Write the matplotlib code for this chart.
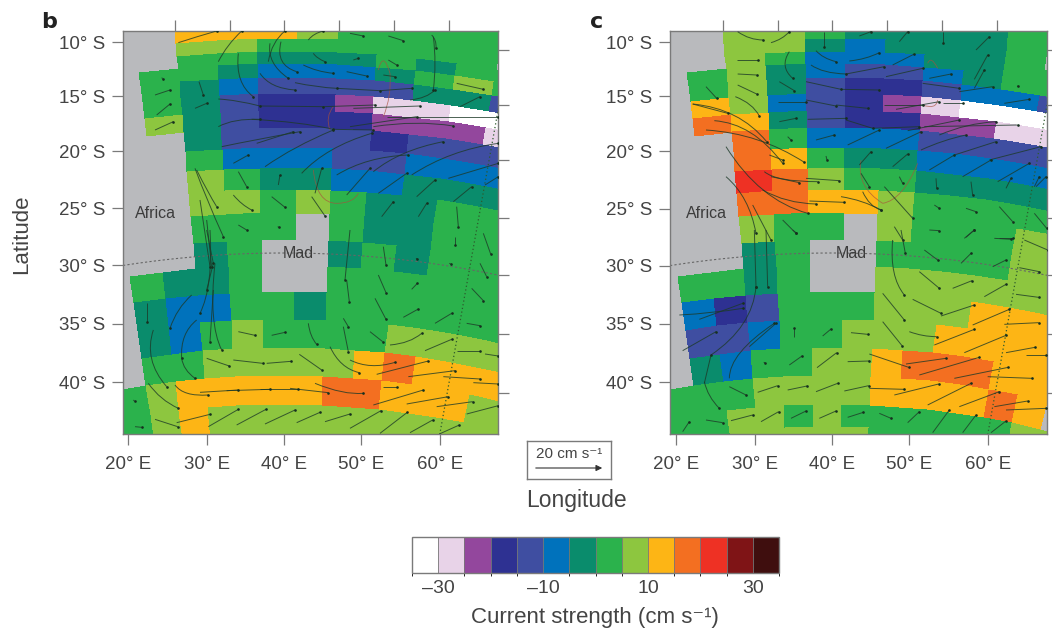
import numpy as np
import matplotlib
matplotlib.use('Agg')
import matplotlib.pyplot as plt
from matplotlib.colors import ListedColormap, BoundaryNorm
from matplotlib.cm import ScalarMappable
from matplotlib.path import Path
from matplotlib.patches import PathPatch

plt.rcParams['font.family'] = ['Liberation Sans', 'DejaVu Sans']

W, H = 1052, 635

# colour classes of the key, 5 cm/s wide
bounds = [-35, -30, -25, -20, -15, -10, -5, 0, 5, 10, 15, 20, 25, 30, 35]
colours = ['#ffffff', '#e8d3e8', '#93479d', '#2e3192', '#3f4ea1', '#0072bc', '#0a8c6c',
           '#2bb24c', '#8dc63f', '#fdb515', '#f36f21', '#ee3124', '#7f1416', '#3f0e0e']
codes = {'W': -32.5, 'P': -27.5, 'U': -22.5, 'N': -17.5, 'I': -12.5, 'B': -7.5, 'T': -2.5,
         'G': 2.5, 'L': 7.5, 'A': 12.5, 'O': 17.5, 'R': 22.5, '.': np.nan}
land = '#b9babd'

# model grid (degrees)
lon_edges = [16, 19.6, 23.2, 26.8, 30.4, 34, 37.6, 41.2, 44.8, 48.4, 52, 55.6, 59.2, 62.8, 66.4, 70, 73.6]
lat_edges = [7, 8.2, 9.4, 10.65, 11.87, 13, 14.3, 15.78, 17.34, 18.9, 20.7, 22.5, 24.4, 26.45,
             28.85, 31.1, 33.4, 35.8, 38.26, 40.7, 43.2, 45.1, 47.9]

# one string per row, north to south, one letter per grid column
cells_b = [
    "....AAALGGGG....",
    "....AAALGGGG....",
    "....AAALGGGG....",
    "....LLGGGGGG....",
    "....GGTTTGTGG...",
    "...GGTBBBTGLGG..",
    "...GTBIIIITTII..",
    "...GTINNUPPWWW..",
    "...LTINNNUUUPP..",
    "....TIIIINIIII..",
    "....GBBBIIBBBB..",
    "....LGTTBBTTTT..",
    "....LLGLGTTGGG..",
    "....GGG.GTTGGG..",
    "....TG..TGTGGG..",
    "..GTTG..GGGGGG..",
    "..TBBGGTGGGGGG..",
    "..TBGLGGGGLLLL..",
    "..GGLLLLLAOAAA..",
    "GGLAAAAAOOAAALL.",
    "GGLALLLLLLLLLLL.",
    "GGLALLLLLLLLLLL.",
]
cells_c = [
    "....LLGTTTTG....",
    "....LLGTTTTG....",
    "....LLGTTTTG....",
    "....LLTBTTTG....",
    "....LGBBBTTGG...",
    "...GLTBIIBTGGG..",
    "...GLTINNIBBII..",
    "...ALBINUPWWWW..",
    "...OATINNUUPPP..",
    "....OGBBBIIIII..",
    "....OAGTTBBBBB..",
    "....ROLGGTTTTT..",
    "....OOAALGGGGG..",
    "....LGG.LGGGLL..",
    "....TG..GGGGLL..",
    "..GGTG..LLLLLL..",
    "..BNIGGGLLLAAA..",
    "..IIBGGLLLAAAA..",
    "..TBGGLLAOOOAA..",
    ".GGGLLLLAAAAOA..",
    "GGGLLGLGGGGGGLL.",
    "GGGLLLLLGGGGGLL.",
]

trails_b_north = [
    (535,128,590,110,650,93), (655,185,680,135,725,93), (805,185,815,125,855,93), (925,120,940,100,970,93),
    (1050,100,1090,108), (1165,108,1210,122), (1295,105,1310,120,1308,145), (843,125,825,195,890,215),
    (810,130,800,190,865,235), (715,160,705,250,760,290), (780,220,810,265,885,270), (910,195,950,215,1000,220),
    (940,160,950,175,975,185), (1040,215,1100,228), (1060,180,1075,175), (1165,180,1190,195), (1150,225,1185,230),
    (885,248,950,262,1010,265), (1010,265,1140,272), (1140,272,1235,265), (1300,110,1310,190,1300,270),
    (1370,250,1450,268), (1230,300,1280,295,1305,270), (1380,320,1440,290), (597,245,610,285),
    (655,297,710,300,780,318), (780,318,970,320), (970,320,1125,315), (1060,325,1260,318), (585,325,620,310),
    (465,285,510,270), (470,345,510,312), (465,390,520,365), (485,233,488,236), (655,380,700,355,780,358),
    (755,358,900,365,1000,388), (1000,388,1120,390), (1050,380,1250,350), (1120,380,1250,360,1360,378),
    (1160,350,1495,350), (665,440,760,420,900,395), (770,430,880,395), (795,500,880,440,1000,390),
    (905,520,980,440,1115,400), (1010,525,1100,470,1225,465), (1120,515,1200,450,1330,425),
    (1235,525,1350,450,1495,430), (1345,535,1495,490), (700,490,745,465), (715,515,740,560), (835,555,840,525),
    (945,580,965,505), (1040,585,1110,505), (1135,580,1220,520), (1250,590,1305,540), (1360,605,1415,560),
    (1455,555,1495,530), (700,585,725,615,755,630), (815,590,855,622), (935,590,975,648), (1145,650,1180,605),
    (1255,650,1280,610), (1370,620,1375,680), (715,675,740,690), (833,680,837,682), (585,505,620,600,670,710),
    (590,510,625,580,650,620), (600,600,630,800), (620,660,635,800),
]
trails_b_south = [
    (620,0,640,100), (640,100,620,180), (640,180,630,335), (630,0,640,170,600,250), (645,100,625,280,665,360),
    (575,195,530,235,510,295), (590,270,540,310,545,385), (440,220,440,275), (460,300,430,390,500,470),
    (545,385,550,420,585,445), (445,460,480,510,535,535), (525,465,550,500,625,495), (600,487,715,480),
    (680,482,810,478), (780,478,895,478), (870,475,985,488), (945,460,1030,495,1090,490), (715,305,765,316),
    (815,316,855,307), (620,385,688,408), (700,390,788,400), (800,400,873,394), (898,373,965,420),
    (925,280,930,320,950,343), (990,350,1020,415,1078,428), (1050,390,1110,420,1185,397), (1130,433,1285,393),
    (1225,440,1365,422), (1330,440,1440,447), (1420,458,1495,462), (1120,525,1270,480), (1220,522,1345,500),
    (1310,530,1418,515), (1400,552,1495,527), (1150,470,1190,470), (465,568,533,590), (530,578,630,553),
    (625,590,715,538), (710,585,798,538), (795,582,885,540), (890,578,960,547), (975,575,1050,552),
    (1050,595,1143,542), (1140,610,1222,547), (1230,608,1298,570), (1318,612,1378,585), (1050,0,1035,150),
    (1040,150,1048,215), (1030,265,1045,290), (1030,290,1045,365), (1110,305,1148,335), (1125,205,1158,268),
    (1135,135,1158,188), (1150,50,1158,105), (1235,178,1252,160), (1210,262,1255,237), (1305,280,1355,250),
    (1170,345,1230,340,1265,310), (1275,362,1355,328), (1370,362,1440,362), (1400,280,1440,287),
    (1455,372,1495,378), (1348,100,1352,102), (1440,100,1460,140), (1415,175,1450,212), (1365,20,1365,45),
    (1450,10,1472,72), (1248,85,1252,87), (400,510,404,514), (405,590,425,592),
]
trails_c_north = [
    (635,95,670,120,712,120), (735,128,770,118,790,95), (895,95,895,140), (1000,108,1035,95), (1120,125,1145,95),
    (1250,95,1250,130), (1350,150,1390,110), (870,152,890,175,930,185), (970,183,1020,178,1060,158),
    (1100,195,1165,162), (790,155,760,200,800,235), (632,180,697,180), (635,222,692,225), (635,255,692,282),
    (628,290,680,310,700,348), (855,195,890,220,960,222), (960,222,1075,200), (1080,230,1190,205),
    (1210,235,1275,222), (1345,238,1385,165), (1345,265,1375,210), (1300,275,1400,260), (760,245,805,272),
    (840,245,945,268), (945,268,1060,270), (1190,250,1300,265), (840,300,930,318), (755,305,840,305),
    (930,315,1025,325), (1075,315,1190,315), (1110,328,1240,305), (1250,310,1310,310), (1435,310,1510,298),
    (1473,258,1477,259), (760,365,810,355), (845,358,960,355), (960,360,1040,385), (1040,385,1180,380),
    (1145,392,1300,360), (1195,380,1475,375), (1240,405,1320,370,1410,365), (870,420,925,405), (785,410,795,420),
    (965,435,1060,390), (1080,445,1185,395), (1185,450,1250,420,1320,405), (1285,465,1410,425), (1390,480,1545,440),
    (1210,510,1285,465), (1310,530,1395,480), (1415,545,1510,490), (1530,560,1560,530), (1100,500,1145,462),
    (1000,495,1035,455), (900,468,903,480), (500,312,605,340), (540,260,572,295),
    (500,312,640,325,722,425), (565,362,680,370,770,490), (540,390,700,400,835,487), (730,465,770,480),
    (715,515,750,545,875,545), (840,535,940,542), (735,530,820,548), (600,530,670,590,690,700),
    (600,440,700,600,845,640), (710,570,780,610,870,612), (850,603,955,607), (945,590,1010,600,1065,630),
    (1005,520,1030,560), (1075,560,1160,655), (1120,530,1130,550), (1010,575,1030,620,1065,630),
    (1225,615,1240,625), (1320,625,1350,635), (1420,620,1460,665), (1525,640,1562,685), (1230,535,1232,565),
    (1335,545,1340,585), (1440,565,1455,535), (1525,560,1540,530), (770,660,810,700), (1210,690,1240,692),
    (1315,715,1345,690), (1420,715,1460,715), (680,615,735,720), (1105,680,1130,720),
]
trails_c_south = [
    (685,0,690,170), (720,0,725,170), (535,460,555,375), (555,375,680,290,690,170), (610,445,610,370,745,280),
    (670,350,750,280), (460,255,560,250,650,235), (520,268,650,220), (470,362,570,305), (535,455,545,500,580,535),
    (610,470,660,495), (540,570,590,578), (615,572,680,555), (705,575,758,545), (795,565,840,543), (880,565,930,543),
    (965,562,1012,547), (1060,550,1095,565), (1145,578,1180,545), (1220,608,1270,540), (1310,608,1350,555),
    (1395,608,1440,573), (470,605,490,575), (695,487,755,467), (785,480,843,468), (870,485,935,460),
    (955,483,1028,467), (1030,475,1135,478), (1105,495,1238,462), (1205,525,1335,460), (1300,530,1420,485),
    (1405,530,1505,513), (1440,540,1560,535), (790,405,828,378), (873,413,932,368), (713,397,717,398),
    (965,395,1030,393), (1030,372,1148,412), (1140,402,1260,385), (1180,435,1360,382), (1285,445,1447,412),
    (1385,440,1518,445), (1440,368,1527,352), (1500,375,1560,375), (1315,368,1440,316), (1225,345,1345,298),
    (1340,285,1450,238), (1435,283,1538,278), (1470,193,1538,202), (1375,200,1440,163), (1280,175,1338,152),
    (1160,208,1245,250), (1245,258,1345,225), (1180,125,1240,175), (1100,30,1090,140,1135,195), (1125,0,1138,70),
    (1070,190,1135,270), (1070,275,1128,347), (1150,305,1190,320,1232,320), (975,308,1025,313), (890,318,915,297),
    (805,320,805,295), (1195,60,1235,90), (1305,100,1335,70), (1400,110,1440,90), (1405,25,1455,28),
    (1495,30,1565,60), (1480,113,1540,125), (800,0,810,8), (1320,22,1345,0),
]
# thin reddish contour around the eddy track
loops_b = [(1135,210,1150,150,1170,220), (1170,220,1175,290,1150,350), (1000,320,975,350,990,390),
           (940,510,950,610,1010,610), (1010,610,1060,610,1075,580)]
loops_c = [(1205,190,1215,165,1235,205), (1190,315,1230,330,1235,300), (1005,480,990,560,1070,610),
           (1070,610,1130,600,1175,490)]

lat_ticks = [10, 15, 20, 25, 30, 35, 40]
lon_ticks = [20, 30, 40, 50, 60]
top_lons = [30.4, 35.2, 40, 44.9, 49.7, 54.5]

# conic map: meridian 40E is upright, cone tip far below the map
tip_y = 1300.0
mid_x = 284.0
cone = 0.51
lat_nodes = [5, 10, 15, 20, 25, 30, 35, 40, 50]
y_nodes = [-21.5, 32, 85.5, 140, 196.6, 253, 310.5, 368, 484]

def radius(lat):
    return tip_y - np.interp(lat, lat_nodes, y_nodes)

def project(lon, lat):
    th = np.radians(cone * (np.asarray(lon, float) - 40))
    r = radius(lat)
    return mid_x + r * np.sin(th), tip_y - r * np.cos(th)

def parallel_y(lat, x):
    r = radius(np.asarray(lat, float))
    return tip_y - np.sqrt(r ** 2 - (x - mid_x) ** 2)

def meridian_x(lon, y):
    th = np.radians(cone * (np.asarray(lon, float) - 40))
    return mid_x + (tip_y - y) * np.tan(th)

cmap = ListedColormap(colours)
norm = BoundaryNorm(bounds, cmap.N)
txt = '#444444'
frame = '#7a7a7a'

fig = plt.figure(figsize=(W / 100, H / 100), dpi=100)

def axes_px(x0, y0, x1, y1):
    return fig.add_axes([x0 / W, 1 - y1 / H, (x1 - x0) / W, (y1 - y0) / H])

def draw_trails(ax, trails, xoff, yoff, colour='#1d3a28', lw=0.7, alpha=0.8, heads=True):
    for t in trails:
        xs = [v / 3 + xoff for v in t[0::2]]
        ys = [v / 3 + yoff for v in t[1::2]]
        if len(xs) == 3:
            kinds = [Path.MOVETO, Path.CURVE3, Path.CURVE3]
        else:
            kinds = [Path.MOVETO, Path.LINETO]
        ax.add_patch(PathPatch(Path(list(zip(xs, ys)), kinds), fc='none', ec=colour, lw=lw, alpha=alpha, zorder=3))
        if heads:
            ax.plot(xs[-1], ys[-1], 'o', ms=1.9, color='#16301f', mew=0, zorder=4)

def panel(box, xlim, cells, north, south, loops, xoff, letter, letter_x, africa_x, mad_x):
    ax = axes_px(*box)
    ax.set_facecolor(land)
    lon_g, lat_g = np.meshgrid(lon_edges, lat_edges)
    X, Y = project(lon_g, lat_g)
    vals = np.array([[codes[c] for c in row] for row in cells])
    ax.pcolormesh(X, Y, np.ma.masked_invalid(vals), cmap=cmap, norm=norm, shading='flat', antialiased=False, zorder=1)
    ax.set_xlim(*xlim)
    ax.set_ylim(434, 31)

    # 30S parallel and 60E meridian
    xx = np.linspace(xlim[0], xlim[1], 60)
    ax.plot(xx, parallel_y(30, xx), color='#666666', lw=0.8, ls=(0, (2, 2)), zorder=2)
    yy = np.linspace(31, 434, 60)
    ax.plot(meridian_x(60, yy), yy, color='#2d5a2d', lw=0.9, ls=(0, (1, 2)), zorder=2)

    draw_trails(ax, loops, xoff, 0, colour='#a8503c', lw=0.6, alpha=0.7, heads=False)
    draw_trails(ax, north, xoff, 0)
    draw_trails(ax, south, xoff, 230)

    ax.set_xticks(meridian_x(lon_ticks, 434))
    ax.set_xticklabels(['%d° E' % v for v in lon_ticks])
    ax.set_yticks(parallel_y(lat_ticks, xlim[0]))
    ax.set_yticklabels(['%d° S' % v for v in lat_ticks])
    ax.tick_params(axis='both', length=8, width=0.9, color=frame, labelcolor=txt, labelsize=13.5)
    ax.tick_params(axis='x', pad=8)
    ax.tick_params(axis='y', pad=5)
    for s in ax.spines.values():
        s.set_color(frame)
        s.set_linewidth(1.0)
    sx = ax.secondary_xaxis('top')
    sx.set_xticks(meridian_x(top_lons, 31))
    sx.set_xticklabels([])
    sx.tick_params(length=8, width=0.9, color=frame)
    sx.spines['top'].set_visible(False)
    sy = ax.secondary_yaxis('right')
    sy.set_yticks(parallel_y(lat_ticks, xlim[1]))
    sy.set_yticklabels([])
    sy.tick_params(length=8, width=0.9, color=frame)
    sy.spines['right'].set_visible(False)

    ax.text(africa_x, 214, 'Africa', fontsize=11.5, color='#3c3c3c', ha='center', va='center', zorder=5)
    ax.text(mad_x, 254, 'Mad', fontsize=11.5, color='#3c3c3c', ha='center', va='center', zorder=5)
    fig.text(letter_x / W, 1 - 22 / H, letter, fontsize=16, fontweight='bold', color='#222222',
             family='DejaVu Sans', ha='center', va='center')
    return ax

panel((123, 31, 498, 434), (123, 498), cells_b, trails_b_north, trails_b_south, loops_b, 0, 'b', 49, 155, 298)
panel((670, 31, 1047, 434), (122, 499), cells_c, trails_c_north, trails_c_south, loops_c, -22, 'c', 597, 158, 303)

fig.text(22 / W, 1 - 234 / H, 'Latitude', rotation=90, fontsize=16, color=txt, ha='center', va='center')
fig.text(576 / W, 1 - 501 / H, 'Longitude', fontsize=16.5, color=txt, ha='center', va='center')

# scale arrow box
key = axes_px(527, 441, 611, 479)
key.set_xlim(0, 84)
key.set_ylim(38, 0)
key.set_xticks([])
key.set_yticks([])
for s in key.spines.values():
    s.set_color(frame)
    s.set_linewidth(1.0)
key.text(42, 13, '20 cm s⁻¹', fontsize=11, color=txt, ha='center', va='center')
key.annotate('', xy=(78, 27), xytext=(6, 27), arrowprops=dict(arrowstyle='-|>', color='#333333', lw=0.8, mutation_scale=9))

# colour key
cax = axes_px(412, 537, 779, 573)
cb = fig.colorbar(ScalarMappable(norm=norm, cmap=cmap), cax=cax, orientation='horizontal',
                  ticks=[-30, -10, 10, 30], spacing='uniform', drawedges=True)
cb.ax.set_xticklabels(['–30', '–10', '10', '30'])
cb.ax.tick_params(length=0, labelsize=14, labelcolor=txt, pad=5)
cb.outline.set_edgecolor(frame)
cb.outline.set_linewidth(1.0)
cb.dividers.set_color('#777777')
cb.dividers.set_linewidth(0.6)
fig.text(595 / W, 1 - 618 / H, 'Current strength (cm s⁻¹)', fontsize=16, color=txt, ha='center', va='center')

fig.savefig('out.png', dpi=100)
